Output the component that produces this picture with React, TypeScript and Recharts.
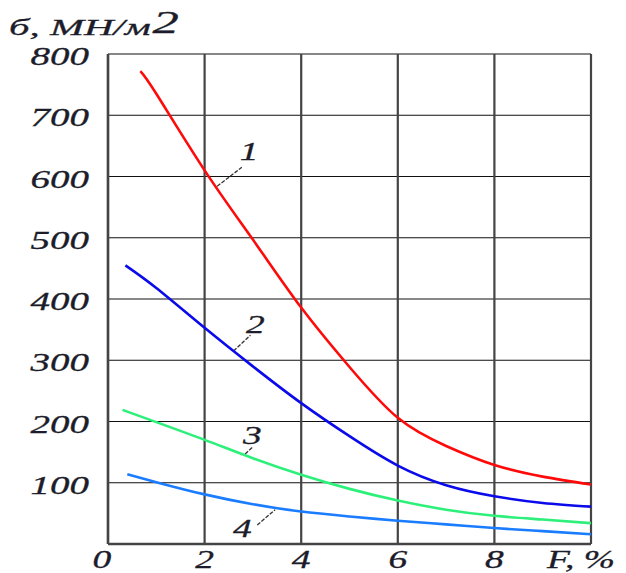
import {
  LineChart,
  Line,
  XAxis,
  YAxis,
  CartesianGrid,
  ReferenceLine,
  ReferenceDot,
} from "recharts";

// F, % (abscissa) for each curve
const fCurve1 = [0.67, 1, 2, 3, 4, 5, 6, 7, 8, 9, 10];
const fCurve2 = [0.36, 1, 2, 3, 4, 5, 6, 7, 8, 9, 10];
const fCurve3 = [0.3, 1, 2, 3, 4, 5, 6, 7, 8, 9, 10];
const fCurve4 = [0.4, 1, 2, 3, 4, 5, 6, 7, 8, 9, 10];

// б, МН/м2
const sigma1 = [772, 735, 610, 497, 386, 289, 206, 160, 129, 110, 97];
const sigma2 = [455, 418, 353, 290, 230, 176, 128, 96, 78, 67, 61];
const sigma3 = [219, 199, 170, 140, 113, 90, 71, 56, 46, 40, 34];
const sigma4 = [114, 101, 81, 65, 53, 45, 38, 32, 26, 21, 16];

const xTicks = [0, 2, 4, 6, 8, 10];
const yTicks = [0, 100, 200, 300, 400, 500, 600, 700, 800];

// curve number labels with their leader lines (data coords)
const curveNames = ["1", "2", "3", "4"];
const labelAt = [
  { x: 2.92, y: 642 },
  { x: 3.05, y: 358 },
  { x: 2.99, y: 178 },
  { x: 2.78, y: 26 },
];
const leaders = [
  [{ x: 2.26, y: 584 }, { x: 2.77, y: 615 }],
  [{ x: 2.6, y: 315 }, { x: 2.95, y: 341 }],
  [{ x: 2.84, y: 147 }, { x: 2.99, y: 158 }],
  [{ x: 3.09, y: 31 }, { x: 3.46, y: 56 }],
];

const toPoints = (fs: number[], vs: number[]) =>
  fs.map((f, i) => ({ f, v: vs[i] }));

const series = [
  { name: "1", data: toPoints(fCurve1, sigma1), color: "#ff0a0a" },
  { name: "2", data: toPoints(fCurve2, sigma2), color: "#0a0aeb" },
  { name: "3", data: toPoints(fCurve3, sigma3), color: "#2cf07a" },
  { name: "4", data: toPoints(fCurve4, sigma4), color: "#1a7cff" },
];

const FONT = '"Liberation Serif", "Times New Roman", serif';
const INK = "#1c1c2a";
const STRETCH = 1.5;

const YTick = (props: any) => {
  const { x, y, payload } = props;
  if (payload.value === 0) return null;
  return (
    <g transform={`translate(${x - 3},${y + 2})`}>
      <text
        transform={`scale(${STRETCH},1)`}
        textAnchor="end"
        dy="0.35em"
        fontFamily={FONT}
        fontStyle="italic"
        fontSize={26}
        stroke={INK}
        strokeWidth={0.3}
        fill={INK}
      >
        {payload.value}
      </text>
    </g>
  );
};

const XTick = (props: any) => {
  const { x, y, payload } = props;
  const last = payload.value === 10;
  const dx = last ? -10 : payload.value === 0 ? -6 : 0;
  return (
    <g transform={`translate(${x + dx},${y - 1})`}>
      <text
        transform={`scale(${STRETCH},1)`}
        textAnchor="middle"
        dy="0.68em"
        fontFamily={FONT}
        fontStyle="italic"
        fontSize={25}
        stroke={INK}
        strokeWidth={0.3}
        fill={INK}
      >
        {last ? "F, %" : payload.value}
      </text>
    </g>
  );
};

export default function App() {
  return (
    <div
      style={{
        position: "absolute",
        left: 0,
        top: 0,
        width: 626,
        height: 573,
        background: "#fff",
      }}
    >
      <svg
        width={626}
        height={60}
        style={{ position: "absolute", left: 0, top: 0 }}
      >
        <g transform="translate(9,35)">
          <text
            transform="scale(1.7,1)"
            fontFamily={FONT}
            fontStyle="italic"
            fontSize={24}
            stroke={INK}
            strokeWidth={0.3}
            fill={INK}
          >
            б, МН/м
            <tspan fontSize={31} dx={1} dy={-2}>
              2
            </tspan>
          </text>
        </g>
      </svg>
      <LineChart
        width={626}
        height={573}
        margin={{ top: 54, right: 35, bottom: 0, left: 0 }}
      >
        <CartesianGrid vertical={false} stroke="#111" strokeWidth={1.2} />
        <CartesianGrid horizontal={false} stroke="#444" strokeWidth={2.2} />
        <XAxis
          type="number"
          dataKey="f"
          domain={[0, 10]}
          ticks={xTicks}
          tick={<XTick />}
          tickLine={false}
          axisLine={{ stroke: "#444", strokeWidth: 2.5 }}
          height={29}
        />
        <YAxis
          type="number"
          dataKey="v"
          domain={[0, 800]}
          ticks={yTicks}
          tick={<YTick />}
          tickLine={false}
          tickMargin={10}
          axisLine={{ stroke: "#444", strokeWidth: 2.5 }}
          width={108}
        />
        {leaders.map((seg, i) => (
          <ReferenceLine
            key={`lead-${i}`}
            segment={seg}
            stroke="#333"
            strokeWidth={1.3}
            strokeDasharray="4 1.5"
            ifOverflow="visible"
          />
        ))}
        {series.map((s) => (
          <Line
            key={s.name}
            data={s.data}
            dataKey="v"
            type="natural"
            stroke={s.color}
            strokeWidth={2.6}
            dot={false}
            isAnimationActive={false}
          />
        ))}
        {labelAt.map((p, i) => (
          <ReferenceDot
            key={`lab-${i}`}
            x={p.x}
            y={p.y}
            r={0}
            ifOverflow="visible"
            shape={(sp: any) => (
              <g transform={`translate(${sp.cx},${sp.cy})`}>
                <text
                  transform={`scale(${STRETCH},1)`}
                  textAnchor="middle"
                  dy="0.35em"
                  fontFamily={FONT}
                  fontStyle="italic"
                  fontSize={25}
                  stroke={INK}
                  strokeWidth={0.3}
                  fill={INK}
                >
                  {curveNames[i]}
                </text>
              </g>
            )}
          />
        ))}
      </LineChart>
    </div>
  );
}
